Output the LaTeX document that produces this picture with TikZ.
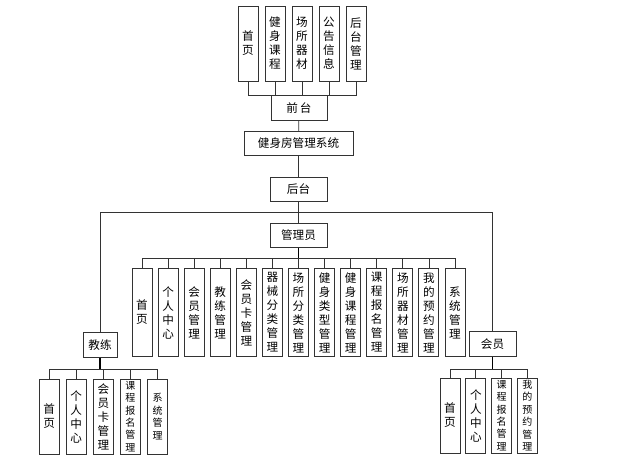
\documentclass[tikz,border=0pt]{standalone}
\usepackage{fontspec}
\newfontfamily\cjk{Noto Sans CJK SC}
\usetikzlibrary{positioning}
\newcommand{\gymMain}{\cjk\fontsize{11.6}{14}\selectfont}
\newcommand{\gymSmall}{\cjk\fontsize{10}{12.4}\selectfont}
\tikzset{
  %% horizontal boxes for the spine (front end, system, back end, roles)
  gymbox/.style={draw=black!80, line width=0.9pt, fill=white,
    inner sep=0pt, align=center, font=\gymMain,
    minimum width=#1, minimum height=24.5pt},
  gymbox/.default=57pt,
  %% upright columns: one character per line
  gymcol/.style={draw=black!80, line width=0.9pt, fill=white,
    inner sep=0pt, align=center, font=\gymMain, text width=12pt,
    minimum width=20pt, minimum height=#1},
  gymcol/.default=75pt,
  gymline/.style={draw=black!80, line width=0.7pt},
  gymbus/.style={draw=black, line width=1.2pt},
}

\begin{document}
\begin{tikzpicture}[x=1pt,y=-1pt]
\useasboundingbox (0,0) rectangle (628,472);

%% --- front end (top) ----------------------------------------------
\foreach \t [count=\i] in {{首\\页},{健\\身\\课\\程},{场\\所\\器\\材},
                           {公\\告\\信\\息},{后\\台\\管\\理}}
  \node[gymcol] (qt\i) at ({221+27*\i},43.5) {\t};

\node[gymbox=56pt] (qt)  at (299,108)     {前\,台};
\node[gymbox=109pt] (sys) at (298.5,143.5) {健身房管理系统};
\node[gymbox] (ht)  at (298.5,189.5) {后台};
\node[gymbox] (gly) at (298.5,235.5) {管理员};
\node[gymbox=34pt] (jl) at (100,345)   {教练};
\node[gymbox=47pt] (hy) at (492.5,344) {会员};

\foreach \i in {1,...,5}
  \draw[gymline] (qt\i.south) |- (qt.north);
\draw[gymline] (qt) -- (sys);
\draw[gymline] (sys) -- (ht);
\draw[gymline] (ht) -- (gly);

%% --- back end splits into the three roles -------------------------
\coordinate (htbus) at (298.5,212);
\draw[gymline] (htbus) -| (jl.north);
\draw[gymline] (htbus) -| (hy.north);

%% --- administrator ------------------------------------------------
\foreach \t [count=\i] in {{首\\页},{个\\人\\中\\心},{会\\员\\管\\理},
    {教\\练\\管\\理},{会\\员\\卡\\管\\理},{器\\械\\分\\类\\管\\理},
    {场\\所\\分\\类\\管\\理},{健\\身\\类\\型\\管\\理},
    {健\\身\\课\\程\\管\\理},{课\\程\\报\\名\\管\\理},
    {场\\所\\器\\材\\管\\理},{我\\的\\预\\约\\管\\理},{系\\统\\管\\理}}
  \node[gymcol=88pt] (gl\i) at ({115.92+26.08*\i},312.5) {\t};

\coordinate (glybus) at (298.5,258);
\draw[gymbus] (gly.south) -- (glybus);
\foreach \i in {1,...,13}
  \draw[gymline] (glybus) -| (gl\i.north);

%% --- coach --------------------------------------------------------
\foreach \t/\f [count=\i] in {{首\\页}/\gymMain,{个\\人\\中\\心}/\gymMain,
    {会\\员\\卡\\管\\理}/\gymMain,{课\\程\\报\\名\\管\\理}/\gymSmall,
    {系\\统\\管\\理}/\gymSmall}
  \node[gymcol, font=\f] (jc\i) at ({22+27.1*\i},416.5) {\t};

\coordinate (jlbus) at (100,369);
\draw[gymbus] (jl.south) -- (jlbus);
\foreach \i in {1,...,5}
  \draw[gymline] (jlbus) -| (jc\i.north);

%% --- member -------------------------------------------------------
\foreach \t/\f [count=\i] in {{首\\页}/\gymMain,{个\\人\\中\\心}/\gymMain,
    {课\\程\\报\\名\\管\\理}/\gymSmall,{我\\的\\预\\约\\管\\理}/\gymSmall}
  \node[gymcol, font=\f] (hc\i) at ({424.2+25.8*\i},415.5) {\t};

\coordinate (hybus) at (492.5,369);
\draw[gymbus] (hy.south) -- (hybus);
\foreach \i in {1,...,4}
  \draw[gymline] (hybus) -| (hc\i.north);

\end{tikzpicture}
\end{document}
